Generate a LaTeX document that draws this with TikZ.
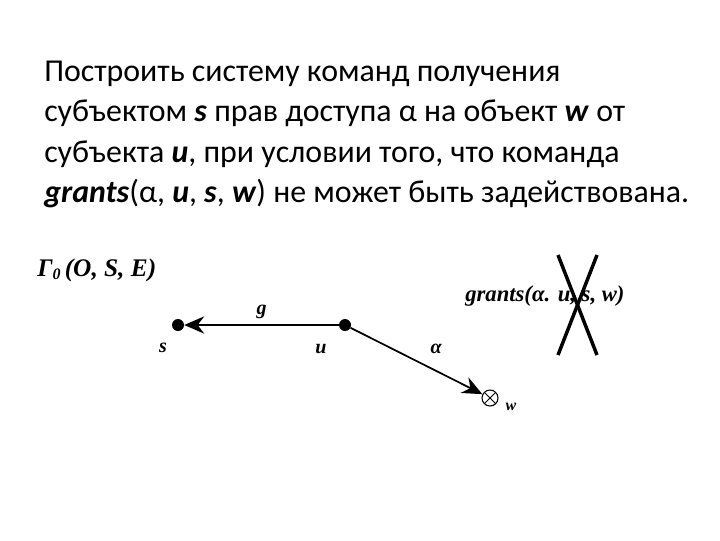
\documentclass[tikz,border=0pt]{standalone}
\usepackage{fontspec}
\setmainfont{Carlito}
\newfontfamily\timesfont{Liberation Serif}
\usetikzlibrary{arrows.meta, positioning}

\tikzset{
	dot/.style={circle, fill=black, inner sep=0pt, minimum size=9pt},
	objnode/.style={circle, draw=black, line width=0.8pt, inner sep=0pt, minimum size=12pt,
		path picture={\draw[line width=0.7pt] (path picture bounding box.north west) -- (path picture bounding box.south east)
			(path picture bounding box.north east) -- (path picture bounding box.south west);}},
	lbl/.style={font=\timesfont\bfseries\itshape\fontsize{15}{17}\selectfont, inner sep=1pt},
	edge/.style={line width=1.3pt, -{Stealth[length=15pt, width=13pt, inset=5pt]}},
	cross/.style={line width=2.6pt}
}

\begin{document}
\begin{tikzpicture}[x=0.75pt, y=-0.75pt]
	\useasboundingbox (0,0) rectangle (720,540);
	
	% task text
	\node[anchor=north west, align=left, inner sep=0pt, font=\fontsize{23.9}{30.2}\selectfont] (task) at (44,61)
		{Построить систему команд получения\\
		субъектом \textbf{\textit{s}} прав доступа α на объект \textbf{\textit{w}} от\\
		субъекта \textbf{\textit{u}}, при условии того, что команда\\
		\textbf{\textit{grants}}(α, \textbf{\textit{u}}, \textbf{\textit{s}}, \textbf{\textit{w}}) не может быть задействована.};
	
	% graph
	\node[anchor=west, font=\timesfont\bfseries\itshape\fontsize{19}{22}\selectfont, inner sep=0pt] (gamma) at (37,270)
		{Γ\raisebox{-0.3ex}{\fontsize{12}{13}\selectfont 0}\,(O, S, E)};
	
	\node[dot] (s) at (178,325) {};
	\node[dot] (u) at (345,325) {};
	\node[objnode] (w) at (490,398) {};
	
	\node[lbl] (slbl) at (163,348) {s};
	\node[lbl] (ulbl) at (321,349) {u};
	\node[lbl, font=\timesfont\bfseries\itshape\fontsize{12}{14}\selectfont] (wlbl) at (511,407) {w};
	
	\draw[edge] (u) -- node[lbl, above=3pt] {g} (s);
	\draw[edge] (u) -- node[lbl, above right=6pt and 4pt, pos=0.55] {α} (w);
	
	% forbidden command
	\node[anchor=west, font=\timesfont\bfseries\itshape\fontsize{17}{20}\selectfont, inner sep=0pt] (grants) at (465,296)
		{grants(α. u, s, w)};
	\coordinate (c1) at (558,255);
	\coordinate (c2) at (597,355);
	\coordinate (c3) at (597,255);
	\coordinate (c4) at (558,355);
	\draw[cross] (c1) -- (c2);
	\draw[cross] (c3) -- (c4);
\end{tikzpicture}
\end{document}
